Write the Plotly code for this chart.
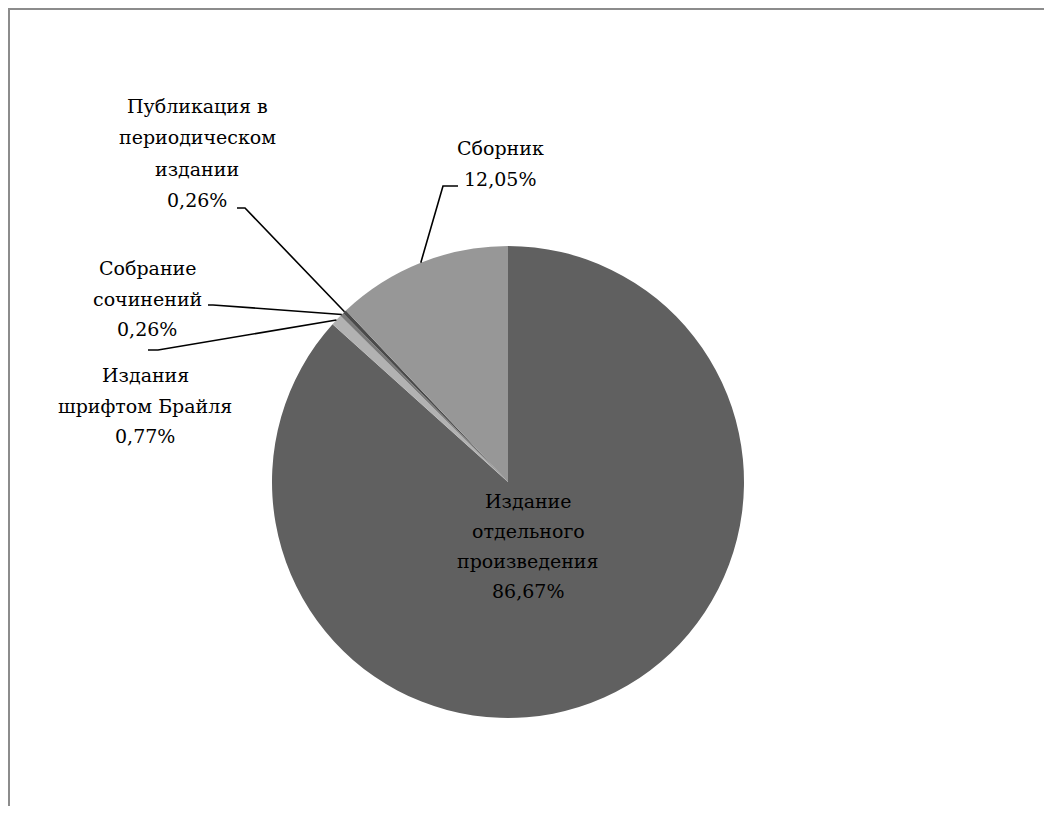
import math
import plotly.graph_objects as go

# ---- data ----
labels = ["Издание отдельного произведения", "Издания шрифтом Брайля",
          "Собрание сочинений", "Публикация в периодическом издании", "Сборник"]
values = [86.67, 0.77, 0.26, 0.26, 12.05]
label_lines = [["Издание", "отдельного", "произведения"],
               ["Издания", "шрифтом Брайля"],
               ["Собрание", "сочинений"],
               ["Публикация в", "периодическом", "издании"],
               ["Сборник"]]
pct_text = ["86,67%", "0,77%", "0,26%", "0,26%", "12,05%"]
colors = ["#606060", "#b2b2b2", "#7a7a7a", "#4a4a4a", "#979797"]

# ---- layout geometry (screen pixels) ----
W, H = 1036, 798
OFF = 8  # page body margin
CX, CY, R = 508, 482, 236


def px(sx):
    return (sx - OFF) / W


def py(sy):
    return 1 - (sy - OFF) / H


fig = go.Figure(go.Pie(
    labels=labels, values=values, sort=False, direction="clockwise", rotation=0,
    marker=dict(colors=colors, line=dict(width=0)),
    textinfo="none", hoverinfo="label+percent", showlegend=False,
    domain=dict(x=[px(CX - R), px(CX + R)], y=[py(CY + R), py(CY - R)]),
))

# label placement: block centre x, first-line y, line pitch (screen pixels)
label_pos = [(528, 501, 30), (145, 375, 30.5), (147, 268, 30.5), (197, 106, 31.3), (500, 148, 31)]
elbows = [None,
          [(158, 350), (148, 350)],
          [(213, 305), (208, 305)],
          [(245, 208), (237, 208)],
          [(443, 186), (458, 186)]]

font = dict(family="DejaVu Serif", size=19, color="#000000")
total = sum(values)
cum = 0.0
annotations = []
shapes = []
for i, v in enumerate(values):
    mid = (cum + v / 2) / total * 2 * math.pi
    cum += v
    lx, ly, pitch = label_pos[i]
    for k, line in enumerate(label_lines[i] + [pct_text[i]]):
        annotations.append(dict(x=px(lx), y=py(ly + k * pitch), xref="paper", yref="paper",
                                text=line, showarrow=False, font=font, align="center",
                                xanchor="center", yanchor="middle"))
    if elbows[i]:
        ex = CX + R * math.sin(mid)
        ey = CY - R * math.cos(mid)
        pts = [(ex, ey)] + elbows[i]
        path = "M " + " L ".join(f"{px(a)},{py(b)}" for a, b in pts)
        shapes.append(dict(type="path", xref="paper", yref="paper", path=path,
                           line=dict(color="#000000", width=1.6)))

# chart frame (top and left edges visible)
shapes.append(dict(type="line", xref="paper", yref="paper", x0=0, x1=1, y0=py(9), y1=py(9),
                   line=dict(color="#8c8c8c", width=2)))
shapes.append(dict(type="line", xref="paper", yref="paper", x0=px(9), x1=px(9), y0=0, y1=py(9),
                   line=dict(color="#8c8c8c", width=2)))

fig.update_layout(width=W, height=H, margin=dict(l=0, r=0, t=0, b=0),
                  paper_bgcolor="white", plot_bgcolor="white",
                  font=dict(family="DejaVu Serif"),
                  annotations=annotations, shapes=shapes)

fig.write_html("out.html")
